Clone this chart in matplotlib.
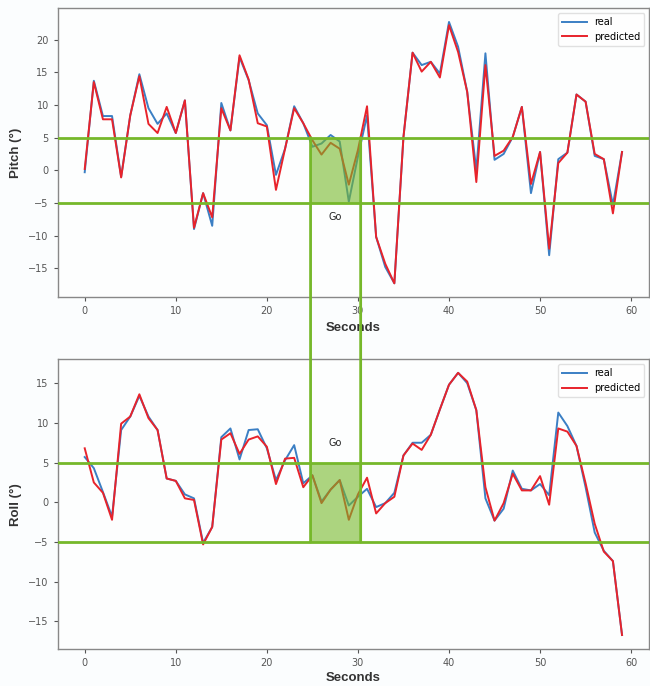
import numpy as np
import matplotlib
matplotlib.use("Agg")
import matplotlib.pyplot as plt
from matplotlib.patches import ConnectionPatch, Rectangle

seconds = np.arange(60)

pitch_real = [-0.3, 13.7, 8.3, 8.3, -1.0, 8.4, 14.7, 9.5, 7.1, 8.7,
              5.7, 10.7, -9.0, -3.5, -8.5, 10.3, 6.1, 17.3, 13.8, 8.7,
              6.9, -0.7, 3.3, 9.8, 7.2, 3.6, 4.1, 5.4, 4.4, -4.8,
              2.1, 8.4, -10.2, -14.8, -17.3, 5.1, 18.0, 16.1, 16.6, 14.8,
              22.7, 18.9, 12.0, 0.0, 17.9, 1.6, 2.5, 5.1, 9.7, -3.5,
              2.8, -13.0, 1.7, 2.7, 11.6, 10.5, 2.2, 1.7, -5.3, 2.8]
pitch_pred = [0.2, 13.5, 7.8, 7.8, -1.1, 8.4, 14.4, 7.1, 5.7, 9.7,
              5.7, 10.7, -8.8, -3.5, -7.2, 9.5, 6.1, 17.6, 13.9, 7.2,
              6.7, -3.0, 3.3, 9.5, 7.2, 4.6, 2.4, 4.2, 3.3, -2.2,
              3.1, 9.8, -10.2, -14.3, -17.3, 5.1, 18.0, 15.1, 16.6, 14.2,
              22.2, 18.1, 12.0, -1.8, 16.1, 2.2, 3.0, 5.1, 9.7, -2.1,
              2.8, -12.0, 1.1, 2.7, 11.6, 10.5, 2.5, 1.7, -6.6, 2.8]

roll_real = [5.7, 4.3, 1.3, -1.8, 9.1, 10.8, 13.4, 10.8, 9.1, 3.0,
             2.7, 1.0, 0.5, -5.1, -3.1, 8.2, 9.3, 5.4, 9.1, 9.2,
             6.8, 2.8, 5.3, 7.2, 2.4, 3.4, 0.1, 1.6, 2.8, -0.4,
             0.7, 1.7, -0.6, -0.1, 1.2, 5.9, 7.5, 7.5, 8.5, 11.7,
             14.8, 16.3, 15.0, 11.6, 0.5, -2.3, -0.8, 4.0, 1.7, 1.5,
             2.3, 0.9, 11.3, 9.6, 7.1, 1.9, -3.8, -6.1, -7.4, -16.7]
roll_pred = [6.8, 2.5, 1.2, -2.2, 9.9, 10.8, 13.6, 10.6, 9.1, 3.0,
             2.7, 0.5, 0.3, -5.3, -3.1, 7.9, 8.7, 6.1, 7.9, 8.3,
             7.0, 2.3, 5.5, 5.6, 1.9, 3.4, -0.1, 1.6, 2.8, -2.2,
             1.0, 3.1, -1.4, -0.1, 0.7, 5.9, 7.4, 6.6, 8.5, 11.7,
             14.8, 16.3, 15.2, 11.6, 1.9, -2.3, -0.1, 3.6, 1.5, 1.5,
             3.3, -0.3, 9.3, 8.9, 7.1, 2.4, -2.7, -6.2, -7.4, -16.7]

threshold = 5
go_start, go_end = 24.8, 30.3

blue = "#3b7fc4"
red = "#e8232b"
green = "#76b82a"
label_font = dict(fontsize=9.5, fontweight="bold", color="#333333",
                  family=["Liberation Sans", "DejaVu Sans"])

fig = plt.figure(figsize=(6.5, 6.86), dpi=100, facecolor="#fbfdfe")
ax1 = fig.add_axes([0.089, 0.567, 0.91, 0.421])
ax2 = fig.add_axes([0.089, 0.0535, 0.91, 0.4227])


def style(ax, ylabel, xlabel_y):
    ax.set_facecolor("#fdfefe")
    for s in ax.spines.values():
        s.set_color("#888888")
        s.set_linewidth(1.0)
    ax.tick_params(labelsize=7, colors="#555555", length=3, width=0.8)
    ax.set_xlabel("Seconds", **label_font)
    ax.set_ylabel(ylabel, **label_font)
    ax.xaxis.set_label_coords(0.5, xlabel_y)
    ax.yaxis.set_label_coords(-0.06, 0.5)
    ax.set_xlim(-2.95, 62.0)


def draw(ax, real, pred, ylim, go_y):
    ax.plot(seconds, real, color=blue, lw=1.4, label="real", zorder=3)
    ax.plot(seconds, pred, color=red, lw=1.4, label="predicted", zorder=3)
    ax.axhline(threshold, color=green, lw=2, zorder=4)
    ax.axhline(-threshold, color=green, lw=2, zorder=4)
    ax.add_patch(Rectangle((go_start, -threshold), go_end - go_start, 2 * threshold,
                           facecolor=green, alpha=0.6, edgecolor="none", zorder=5))
    ax.set_ylim(*ylim)
    ax.text((go_start + go_end) / 2, go_y, "Go", fontsize=7, ha="center", va="center",
            color="#222222")
    ax.legend(loc="upper right", fontsize=7, framealpha=0.9, edgecolor="#dddddd",
              handlelength=2.5)


draw(ax1, pitch_real, pitch_pred, (-19.4, 24.8), -7.2)
draw(ax2, roll_real, roll_pred, (-18.5, 18.0), 7.5)
style(ax1, "Pitch (°)", -0.087)
style(ax2, "Roll (°)", -0.078)
ax1.set_yticks([-15, -10, -5, 0, 5, 10, 15, 20])
ax2.set_yticks([-15, -10, -5, 0, 5, 10, 15])
ax1.set_xticks([0, 10, 20, 30, 40, 50, 60])
ax2.set_xticks([0, 10, 20, 30, 40, 50, 60])

# vertical boundaries of the "Go" window, running from the pitch box into the roll box
for xv in (go_start, go_end):
    con = ConnectionPatch(xyA=(xv, threshold), coordsA=ax1.transData,
                          xyB=(xv, -threshold), coordsB=ax2.transData,
                          color=green, lw=2, zorder=10)
    fig.add_artist(con)

fig.savefig("out.png", dpi=100, facecolor=fig.get_facecolor())
